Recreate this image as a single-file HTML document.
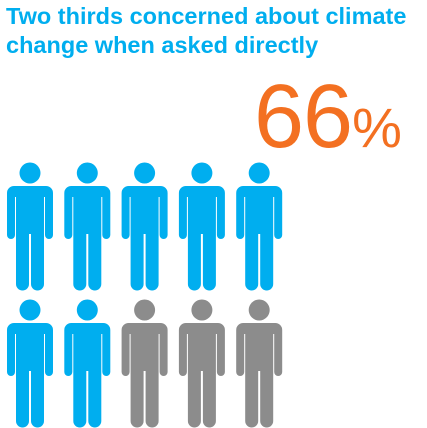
<!DOCTYPE html>
<html><head><meta charset="utf-8"><style>
body{margin:0;width:427px;height:428px;background:#fff;overflow:hidden;font-family:"Liberation Sans",sans-serif}
#t{position:absolute;left:6px;top:2px;color:#00aeef;font-weight:bold;font-size:23.5px;line-height:29px;letter-spacing:0}
#p{position:absolute;left:254px;top:70px;color:#f37021;font-size:90px;line-height:94px;letter-spacing:-1px}
#p span{font-size:56px;letter-spacing:0}
svg{position:absolute;left:0;top:0}
</style></head><body>
<div id="t">Two thirds concerned about climate<br>change when asked directly</div>
<div id="p">66<span>%</span></div>
<svg id="s" width="427" height="428"></svg>
<script>
const total=[10];
const concerned=[7];
const cols=5, x0=30, dx=57.3, y0=163, dy=137;
const ns="http://www.w3.org/2000/svg";
const s=document.getElementById('s');
for(let i=0;i<total[0];i++){
 const cx=x0+(i%cols)*dx, ty=y0+Math.floor(i/cols)*dy;
 const c=i<concerned[0]?'#00aeef':'#8c8c8c';
 const g=document.createElementNS(ns,'g');
 
 
 g.setAttribute('fill',c);
 g.innerHTML=`<circle cx="${cx}" cy="${ty+10}" r="10.5"/>
 <path d="M${cx-16} ${ty+23} h32 a7 7 0 0 1 7 7 v42 a4 4 0 0 1 -8 0 v-38 h-1 v87 a6.5 6.5 0 0 1 -13 0 v-50 h-2 v50 a6.5 6.5 0 0 1 -13 0 v-87 h-1 v38 a4 4 0 0 1 -8 0 v-42 a7 7 0 0 1 7 -7z"/>`;
 s.appendChild(g);
}
</script>
</body></html>
